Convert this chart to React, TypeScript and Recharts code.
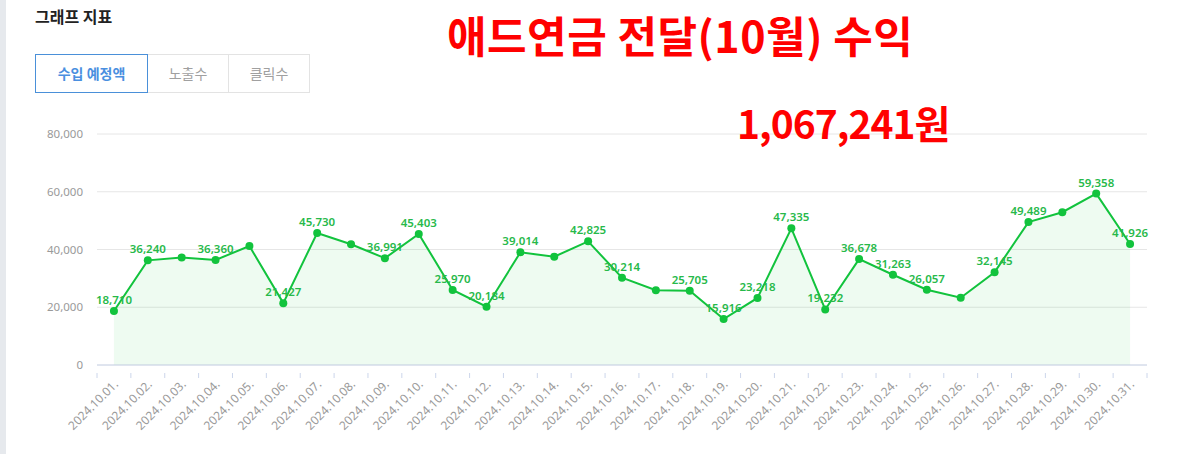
import { ComposedChart, Area, Line, XAxis, YAxis, CartesianGrid, LabelList } from 'recharts';

const dates = [
  '2024.10.01.', '2024.10.02.', '2024.10.03.', '2024.10.04.', '2024.10.05.', '2024.10.06.',
  '2024.10.07.', '2024.10.08.', '2024.10.09.', '2024.10.10.', '2024.10.11.', '2024.10.12.',
  '2024.10.13.', '2024.10.14.', '2024.10.15.', '2024.10.16.', '2024.10.17.', '2024.10.18.',
  '2024.10.19.', '2024.10.20.', '2024.10.21.', '2024.10.22.', '2024.10.23.', '2024.10.24.',
  '2024.10.25.', '2024.10.26.', '2024.10.27.', '2024.10.28.', '2024.10.29.', '2024.10.30.',
  '2024.10.31.',
];

const revenue = [
  18710, 36240, 37250, 36360, 41200, 21427,
  45730, 41800, 36991, 45403, 25970, 20184,
  39014, 37500, 42825, 30214, 25900, 25705,
  15916, 23218, 47335, 19232, 36678, 31263,
  26057, 23300, 32145, 49489, 52900, 59358,
  41926,
];

// labels the original chart hid because they overlapped
const hiddenLabelDates = [
  '2024.10.03.', '2024.10.05.', '2024.10.08.', '2024.10.14.',
  '2024.10.17.', '2024.10.26.', '2024.10.29.',
];

const yTicks = [0, 20000, 40000, 60000, 80000];
const tabs = ['수입 예정액', '노출수', '클릭수'];

const data = dates.map((date, i) => ({ date, value: revenue[i] }));

const CHART_W = 1178;
const CHART_H = 454;
const MARGIN = { top: 134, right: 31, bottom: 0, left: 9 };
const Y_AXIS_W = 88;
const BAND = (CHART_W - MARGIN.left - MARGIN.right - Y_AXIS_W) / dates.length;

const GREEN = '#12c33d';
const LABEL_GREEN = '#27b94a';
const FONT = '"Noto Sans", "Noto Sans CJK KR", sans-serif';
const KR_FONT = '"Noto Sans CJK KR", sans-serif';

function DateTick(props: any) {
  const { x, y, payload, index } = props;
  const last = index === dates.length - 1;
  return (
    <g>
      <line x1={x - BAND / 2} x2={x - BAND / 2} y1={y} y2={y + 5} stroke="#ccd6eb" />
      {last && <line x1={x + BAND / 2} x2={x + BAND / 2} y1={y} y2={y + 5} stroke="#ccd6eb" />}
      <text
        x={x + 5}
        y={y + 12}
        transform={`rotate(-45 ${x + 5} ${y + 12})`}
        textAnchor="end"
        fontSize={12}
        fill="#9a9a9a"
        fontFamily={FONT}
      >
        {payload.value}
      </text>
    </g>
  );
}

function PointLabel(props: any) {
  const { x, y, value, index } = props;
  if (hiddenLabelDates.includes(dates[index])) return null;
  return (
    <text
      x={x}
      y={y - 7}
      textAnchor="middle"
      fontSize={11.5}
      fontWeight={600}
      fill={LABEL_GREEN}
      fontFamily={FONT}
    >
      {Number(value).toLocaleString('en-US')}
    </text>
  );
}

export default function App() {
  return (
    <div style={{ position: 'absolute', left: 0, top: 0, width: CHART_W, height: CHART_H, background: '#fff', fontFamily: FONT }}>
      <div style={{ position: 'absolute', left: 0, top: 0, width: 6, height: CHART_H, background: '#e6e9ed' }} />
      <div style={{ position: 'absolute', left: 35, top: 4, fontSize: 16, fontWeight: 700, color: '#222', fontFamily: KR_FONT }}>
        그래프 지표
      </div>
      <div style={{ position: 'absolute', left: 35, top: 54, display: 'flex', fontFamily: KR_FONT }}>
        {tabs.map((t, i) => (
          <div
            key={t}
            style={{
              width: i === 0 ? 111 : 80,
              height: 37,
              lineHeight: '37px',
              textAlign: 'center',
              fontSize: 14,
              fontWeight: i === 0 ? 600 : 400,
              color: i === 0 ? '#4a8fe0' : '#a0a0a0',
              border: i === 0 ? '1px solid #4a90d9' : '1px solid #e3e3e3',
              borderLeft: i === 0 ? '1px solid #4a90d9' : 'none',
            }}
          >
            {t}
          </div>
        ))}
      </div>
      <div style={{ position: 'absolute', left: 0, top: 0 }}>
        <ComposedChart width={CHART_W} height={CHART_H} data={data} margin={MARGIN}>
          <CartesianGrid vertical={false} stroke="#e6e6e6" />
          <XAxis
            dataKey="date"
            scale="band"
            interval={0}
            height={89}
            axisLine={{ stroke: '#ccd6eb' }}
            tickLine={false}
            tick={<DateTick />}
          />
          <YAxis
            domain={[0, 80000]}
            ticks={yTicks}
            width={Y_AXIS_W}
            axisLine={false}
            tickLine={false}
            tickSize={0}
            tickMargin={14}
            tick={{ fontSize: 11.5, fill: '#9a9a9a', fontFamily: FONT }}
            tickFormatter={(v: number) => v.toLocaleString('en-US')}
          />
          <Area
            type="linear"
            dataKey="value"
            stroke="none"
            fill={GREEN}
            fillOpacity={0.07}
            isAnimationActive={false}
          />
          <Line
            type="linear"
            dataKey="value"
            stroke={GREEN}
            strokeWidth={2}
            dot={{ r: 4, fill: GREEN, stroke: GREEN, strokeWidth: 0 }}
            activeDot={false}
            isAnimationActive={false}
          >
            <LabelList dataKey="value" content={<PointLabel />} />
          </Line>
        </ComposedChart>
      </div>
      <div style={{ position: 'absolute', left: 447, top: 3, fontSize: 43, letterSpacing: 0.5, fontWeight: 700, color: '#ff0000', fontFamily: KR_FONT, whiteSpace: 'nowrap' }}>
        애드연금 전달(10월) 수익
      </div>
      <div style={{ position: 'absolute', left: 737, top: 94, fontSize: 39, letterSpacing: -1, fontWeight: 700, color: '#ff0000', fontFamily: KR_FONT, whiteSpace: 'nowrap' }}>
        1,067,241원
      </div>
    </div>
  );
}
